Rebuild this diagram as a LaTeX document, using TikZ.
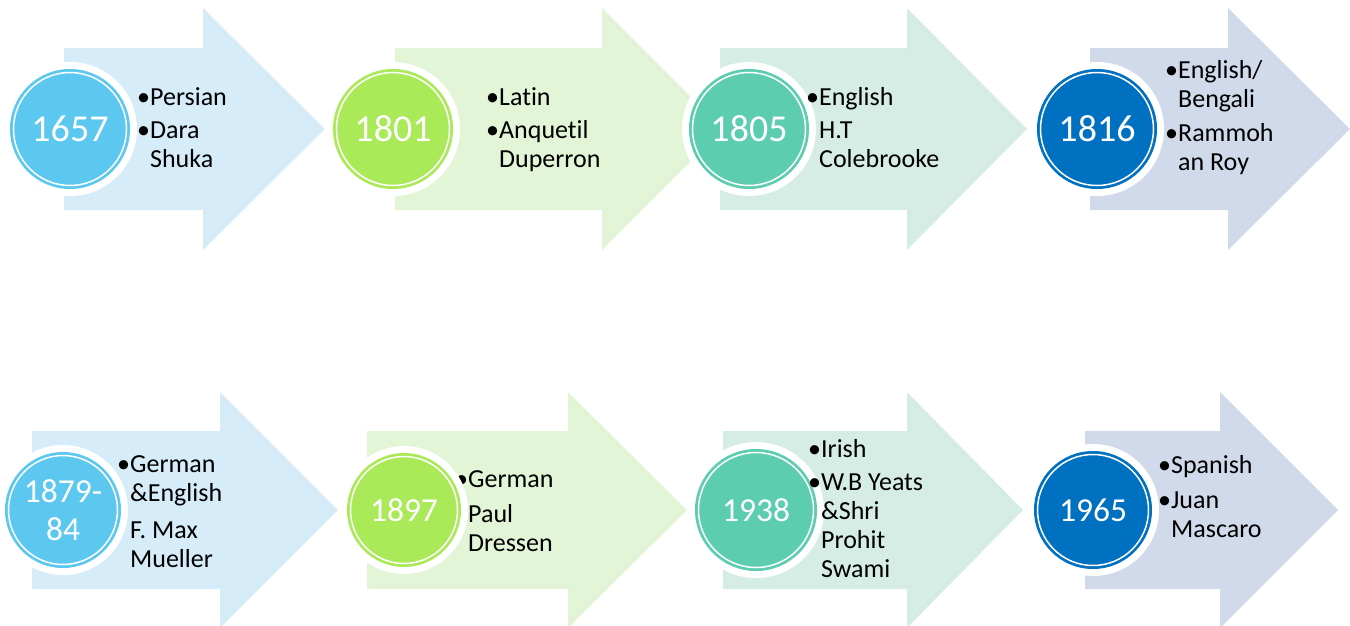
\documentclass[tikz,border=0pt]{standalone}
\usepackage{fontspec}
\setmainfont[Ligatures=NoCommon]{Carlito}
\definecolor{cA}{RGB}{92,200,240}
\definecolor{aA}{RGB}{214,236,248}
\definecolor{cB}{RGB}{170,233,88}
\definecolor{aB}{RGB}{226,245,214}
\definecolor{cC}{RGB}{92,205,175}
\definecolor{aC}{RGB}{213,237,228}
\definecolor{cD}{RGB}{0,112,192}
\definecolor{aD}{RGB}{208,218,234}
\newcommand\harrow[7]{\fill[#7] (#1,#4-#5) -- (#2,#4-#5) -- (#2,#4-#6) -- (#3,#4) -- (#2,#4+#6) -- (#2,#4+#5) -- (#1,#4+#5) -- cycle;
  \draw[#7!92!black!70!white, line width=1.2, opacity=0.35] ([xshift=3pt,yshift=-3pt]#1,#4-#5) -- (#2+3,#4-#5+3) -- (#2+3,#4-#6+7) -- (#3-5,#4) -- (#2+3,#4+#6-7) -- (#2+3,#4+#5-3) -- (#1+3,#4+#5-3);}
\tikzset{
  yearcirc/.style={circle, inner sep=0pt, text=white, align=center, font=\fontsize{38}{40}\selectfont},
  yearsmall/.style={yearcirc, font=\fontsize{33.5}{38}\selectfont},
  info/.style={anchor=base west, inner sep=0pt, font=\fontsize{26}{29}\selectfont, text=black}
}
\newcommand\yc[6]{% name, x, y, r, color, style
  \fill[white] (#2,#3) circle (#4+7);
  \node[#6, fill=#5, minimum size=2*#4] (#1) at (#2,#3) {};
  \draw[white, line width=1.5] (#1.center) circle (#4-3.5);}
\begin{document}
\begin{tikzpicture}[x=1pt,y=-1pt]
\useasboundingbox (0,0) rectangle (1350,625);
% top row arrows
\harrow{64}{203}{325}{129}{81}{121}{aA}
\harrow{395}{602}{723}{129}{81}{121}{aB}
\harrow{720}{907}{1027}{129}{81}{121}{aC}
\harrow{1090}{1228}{1350}{129}{81}{121}{aD}
% bottom row arrows
\harrow{32}{220}{338}{510}{79}{118}{aA}
\harrow{367}{568}{687}{510}{79}{118}{aB}
\harrow{723}{907}{1023}{510}{79}{118}{aC}
\harrow{1085}{1220}{1338}{510}{79}{118}{aD}
% text hidden partly behind circle
\node[info] (t6) at (455,487) {\begin{tabular}[t]{@{}l@{}l@{}}•&German\\[6pt] &Paul\\ &Dressen\end{tabular}};
% circles
\yc{c1}{70}{129}{60}{cA}{yearcirc}
\yc{c2}{393}{129}{60}{cB}{yearcirc}
\yc{c3}{749}{129}{60}{cC}{yearcirc}
\yc{c4}{1097}{129}{60}{cD}{yearcirc}
\yc{c5}{63}{510}{58}{cA}{yearsmall}
\yc{c6}{404}{510}{57}{cB}{yearsmall}
\yc{c7}{756}{510}{61}{cC}{yearsmall}
\yc{c8}{1093}{510}{59}{cD}{yearsmall}
\node[yearcirc] (y1) at (c1) {1657};
\node[yearcirc] (y2) at (c2) {1801};
\node[yearcirc] (y3) at (c3) {1805};
\node[yearcirc] (y4) at (c4) {1816};
\node[yearsmall] (y5) at (c5) {1879-\\84};
\node[yearsmall] (y6) at (c6) {1897};
\node[yearsmall] (y7) at (c7) {1938};
\node[yearsmall] (y8) at (c8) {1965};
% texts
\node[info] (t1) at (137,105) {\begin{tabular}[t]{@{}l@{}l@{}}•&Persian\\[4pt] •&Dara\\ &Shuka\end{tabular}};
\node[info] (t2) at (486,105) {\begin{tabular}[t]{@{}l@{}l@{}}•&Latin\\[4pt] •&Anquetil\\ &Duperron\end{tabular}};
\node[info] (t3) at (806,105) {\begin{tabular}[t]{@{}l@{}l@{}}•&English\\[4pt] &H.T\\ &Colebrooke\end{tabular}};
\node[info] (t4) at (1165,78) {\begin{tabular}[t]{@{}l@{}l@{}}•&English/\\ &Bengali\\[5pt] •&Rammoh\\ &an Roy\end{tabular}};
\node[info] (t5) at (117,472) {\begin{tabular}[t]{@{}l@{}l@{}}•&German\\ &\&English\\[8pt] &F. Max\\ &Mueller\end{tabular}};
\node[info] (t7) at (808,457) {\begin{tabular}[t]{@{}l@{}l@{}}•&Irish\\[4pt] •&W.B Yeats\\ &\&Shri\\ &Prohit\\ &Swami\end{tabular}};
\node[info] (t8) at (1158,473) {\begin{tabular}[t]{@{}l@{}l@{}}•&Spanish\\[6pt] •&Juan\\ &Mascaro\end{tabular}};
\end{tikzpicture}
\end{document}
